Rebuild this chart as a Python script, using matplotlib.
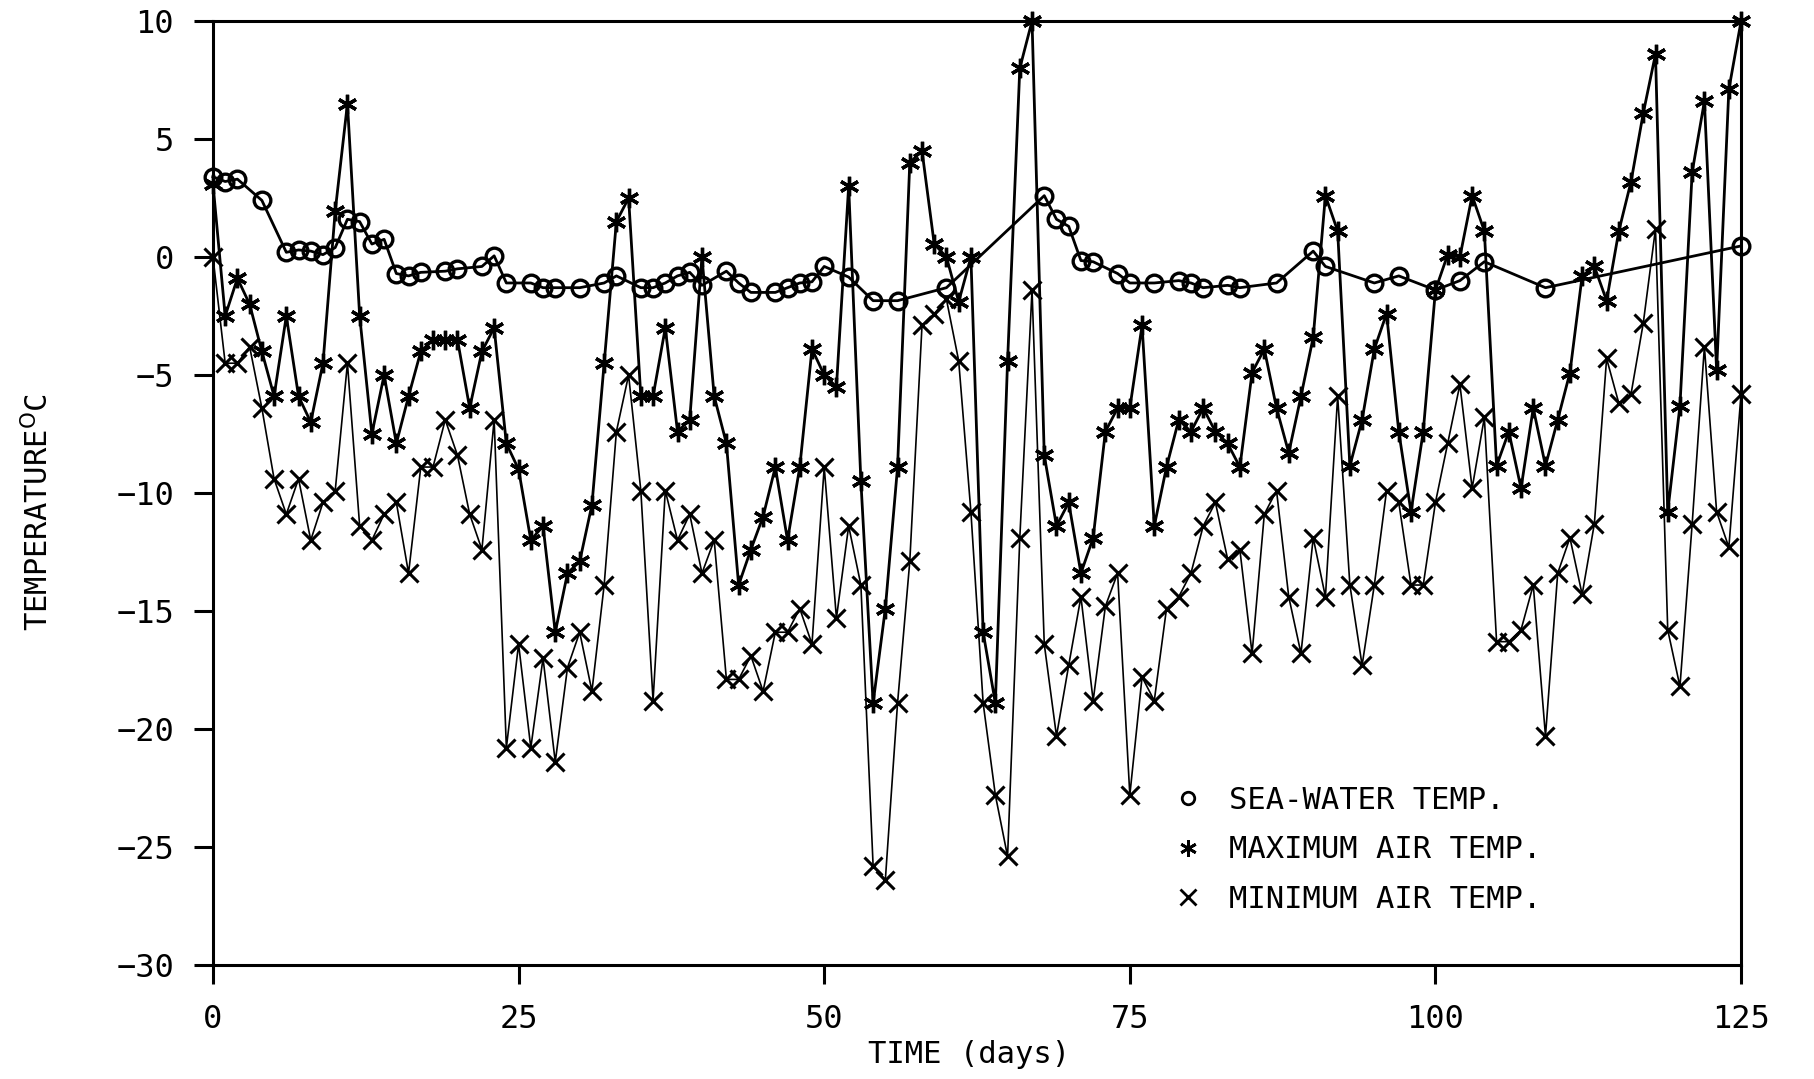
import numpy as np
import matplotlib as mpl
mpl.use("Agg")
mpl.rcParams['font.family'] = ['DejaVu Sans Mono', 'DejaVu Sans']
mpl.rcParams['mathtext.fontset'] = 'dejavusans'
import matplotlib.pyplot as plt
from matplotlib.lines import Line2D

#-----------------------------------------------------------------------------
# data (days, deg C)
#-----------------------------------------------------------------------------
sea_days = [0, 1, 2, 4, 6, 7, 8, 9, 10, 11, 12, 13, 14, 15, 16, 17, 19, 20, 22, 23,
            24, 26, 27, 28, 30, 32, 33, 35, 36, 37, 38, 39, 40, 42, 43, 44, 46, 47, 48, 49,
            50, 52, 54, 56, 60, 68, 69, 70, 71, 72, 74, 75, 77, 79, 80, 81, 83, 84, 87, 90,
            91, 95, 97, 100, 102, 104, 109, 125]
sea_temp = [3.4, 3.2, 3.3, 2.4, 0.2, 0.3, 0.25, 0.1, 0.4, 1.6, 1.5, 0.55, 0.75, -0.7, -0.8, -0.65, -0.6, -0.5, -0.4, 0.05,
            -1.1, -1.1, -1.3, -1.3, -1.3, -1.1, -0.8, -1.3, -1.3, -1.1, -0.8, -0.65, -1.2, -0.6, -1.1, -1.5, -1.5, -1.3, -1.1, -1.05,
            -0.4, -0.85, -1.85, -1.85, -1.3, 2.6, 1.6, 1.3, -0.15, -0.2, -0.7, -1.1, -1.1, -1.0, -1.1, -1.3, -1.2, -1.3, -1.1, 0.25,
            -0.4, -1.1, -0.8, -1.4, -1.0, -0.2, -1.3, 0.47]

air_days = list(range(0, 126))
max_temp = [3.1, -2.5, -0.9, -2.0, -4.0, -5.9, -2.5, -5.9, -7.0, -4.5,
            1.95, 6.5, -2.5, -7.5, -5.0, -7.9, -5.9, -4.0, -3.5, -3.5,
            -3.5, -6.4, -4.0, -3.0, -7.9, -9.0, -12.0, -11.4, -15.9, -13.4,
            -12.9, -10.5, -4.5, 1.5, 2.5, -5.9, -5.9, -3.0, -7.4, -6.9,
            0.0, -5.9, -7.9, -13.9, -12.4, -11.0, -8.9, -12.0, -8.9, -3.9,
            -5.0, -5.5, 3.0, -9.5, -18.9, -14.9, -8.9, 4.0, 4.5, 0.55,
            0.0, -1.9, 0.0, -15.9, -18.9, -4.4, 8.0, 10.0, -8.4, -11.4,
            -10.4, -13.4, -11.9, -7.4, -6.4, -6.4, -2.9, -11.4, -8.9, -6.9,
            -7.4, -6.4, -7.4, -7.9, -8.9, -4.9, -3.9, -6.4, -8.3, -5.9,
            -3.4, 2.6, 1.1, -8.85, -6.9, -3.9, -2.4, -7.4, -10.8, -7.4,
            -1.4, 0.1, 0.0, 2.6, 1.1, -8.85, -7.4, -9.8, -6.4, -8.85,
            -6.9, -4.9, -0.8, -0.4, -1.85, 1.1, 3.2, 6.1, 8.6, -10.8,
            -6.3, 3.6, 6.6, -4.8, 7.1, 10.0]
min_temp = [0.0, -4.5, -4.5, -3.8, -6.4, -9.4, -10.9, -9.4, -12.0, -10.4,
            -9.9, -4.5, -11.4, -12.0, -10.9, -10.4, -13.4, -8.9, -8.9, -6.9,
            -8.4, -10.9, -12.4, -6.9, -20.8, -16.4, -20.8, -17.0, -21.4, -17.4,
            -15.9, -18.4, -13.9, -7.4, -5.0, -9.9, -18.8, -9.9, -12.0, -10.9,
            -13.4, -12.0, -17.9, -17.9, -16.9, -18.4, -15.9, -15.9, -14.9, -16.4,
            -8.9, -15.3, -11.4, -13.9, -25.8, -26.4, -18.9, -12.9, -2.9, -2.4,
            -1.8, -4.4, -10.8, -18.9, -22.8, -25.4, -11.9, -1.4, -16.4, -20.3,
            -17.3, -14.4, -18.8, -14.8, -13.4, -22.8, -17.8, -18.8, -14.9, -14.4,
            -13.4, -11.4, -10.4, -12.8, -12.4, -16.8, -10.9, -9.9, -14.4, -16.8,
            -11.9, -14.4, -5.9, -13.9, -17.3, -13.9, -9.9, -10.4, -13.9, -13.9,
            -10.4, -7.9, -5.4, -9.8, -6.8, -16.3, -16.3, -15.8, -13.9, -20.3,
            -13.4, -11.9, -14.3, -11.3, -4.3, -6.2, -5.8, -2.8, 1.2, -15.8,
            -18.2, -11.3, -3.8, -10.8, -12.3, -5.8]

labels = ["SEA-WATER TEMP.", "MAXIMUM AIR TEMP.", "MINIMUM AIR TEMP."]
xticks = [0, 25, 50, 75, 100, 125]
yticks = [10, 5, 0, -5, -10, -15, -20, -25, -30]

#-----------------------------------------------------------------------------
fig = plt.figure(figsize=(18.14, 10.79), dpi=100)
ax = fig.add_axes([0.1174, 0.1057, 0.8424, 0.8748])

star = (6, 2, 0)
ax.plot(air_days, min_temp, color='k', lw=1.2, marker='x', ms=13, mew=2.2, clip_on=False)
ax.plot(air_days, max_temp, color='k', lw=2.0, marker=star, ms=14, mew=2.4, clip_on=False)
ax.plot(sea_days, sea_temp, color='k', lw=2.0, marker='o', ms=12, mew=2.4,
        mfc='none', clip_on=False)

ax.set_xlim(0, 125)
ax.set_ylim(-30, 10)
ax.set_xticks(xticks)
ax.set_yticks(yticks)
ax.tick_params(direction='out', length=14, width=2.2, labelsize=23, pad=14,
               top=False, right=False)
for sp in ax.spines.values():
    sp.set_linewidth(2.2)

ax.set_xlabel("TIME (days)", fontsize=22)
ax.xaxis.set_label_coords(0.495, -0.08)
ax.set_ylabel("TEMPERATURE$^{\\mathsf{O}}$C", fontsize=22)
ax.yaxis.set_label_coords(-0.104, 0.48)

handles = [Line2D([], [], ls='none', color='k', marker='o', ms=9, mew=2.0, mfc='none'),
           Line2D([], [], ls='none', color='k', marker=star, ms=12, mew=2.0),
           Line2D([], [], ls='none', color='k', marker='x', ms=11, mew=2.0)]
ax.legend(handles, labels, loc='upper left', bbox_to_anchor=(0.628, 0.19),
          frameon=False, fontsize=22, handlelength=1.0, handletextpad=0.85,
          labelspacing=0.68, borderpad=0, borderaxespad=0)

fig.savefig("out.png", dpi=100, facecolor='white')
